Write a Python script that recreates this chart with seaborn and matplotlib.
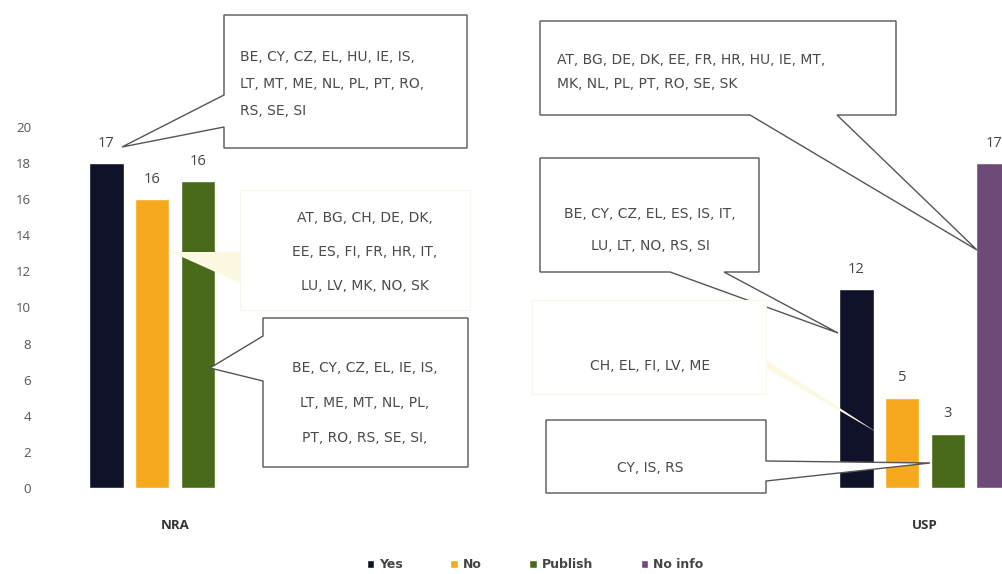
import matplotlib
matplotlib.use("Agg")
import matplotlib.pyplot as plt
from matplotlib.patches import Polygon
import pandas as pd
import seaborn as sns

# ── data ──────────────────────────────────────────────────────────────────────
group_order = ["NRA", "USP"]
answer_order = ["Yes", "No", "Publish", "No info"]
groups = ["NRA", "NRA", "NRA", "USP", "USP", "USP", "USP"]
answers = ["Yes", "No", "Publish", "Yes", "No", "Publish", "No info"]
heights = [18, 16, 17, 11, 5, 3, 18]          # bar heights as drawn
value_labels = ["17", "16", "16", "12", "5", "3", "17"]  # numbers printed on top

colors = {"Yes": "#0f1229", "No": "#f6a91c", "Publish": "#4a6a1b", "No info": "#6e4a79"}

# callout texts
txt_nra_yes = "BE, CY, CZ, EL, HU, IE, IS,\nLT, MT, ME, NL, PL, PT, RO,\nRS, SE, SI"
txt_nra_no = "AT, BG, CH, DE, DK,\nEE, ES, FI, FR, HR, IT,\nLU, LV, MK, NO, SK"
txt_nra_pub = "BE, CY, CZ, EL, IE, IS,\nLT, ME, MT, NL, PL,\nPT, RO, RS, SE, SI,"
txt_usp_info = "AT, BG, DE, DK, EE, FR, HR, HU, IE, MT,\nMK, NL, PL, PT, RO, SE, SK"
txt_usp_yes = "BE, CY, CZ, EL, ES, IS, IT,\nLU, LT, NO, RS, SI"
txt_usp_no = "CH, EL, FI, LV, ME"
txt_usp_pub = "CY, IS, RS"

df = pd.DataFrame({"group": groups, "answer": answers, "count": heights})
lab_map = {(g, a): l for g, a, l in zip(groups, answers, value_labels)}

# ── figure ────────────────────────────────────────────────────────────────────
sns.set_theme(style="white")
plt.rcParams["font.family"] = ["Open Sans", "DejaVu Sans"]

W, H = 1003, 574
fig = plt.figure(figsize=(W / 100, H / 100), dpi=100)
ax = fig.add_axes([45 / W, 86 / H, 958 / W, 361 / H])

sns.barplot(data=df, x="group", y="count", hue="answer",
            order=group_order, hue_order=answer_order, palette=colors,
            saturation=1, width=0.245, gap=0.24, errorbar=None, ax=ax)

ax.set_xlim((45 - 175) / 750, (1003 - 175) / 750)
ax.set_ylim(0, 20)
ax.set_yticks(range(0, 21, 2))
ax.set_xlabel("")
ax.set_ylabel("")
sns.despine(ax=ax, left=True, bottom=True)
ax.tick_params(axis="y", length=0, pad=10, labelsize=9.5, labelcolor="#555555")
ax.tick_params(axis="x", length=0, pad=22, labelsize=9.5, labelcolor="#333333")
for t in ax.get_xticklabels():
    t.set_fontweight("bold")

# numbers on top of bars
for cont, ans in zip(ax.containers, answer_order):
    labs = []
    for bar in cont:
        g = group_order[round(bar.get_x() + bar.get_width() / 2)]
        labs.append(lab_map.get((g, ans), ""))
    ax.bar_label(cont, labels=labs, padding=9, fontsize=10.5, color="#444444")

handles, labels = ax.get_legend_handles_labels()
ax.get_legend().remove()
fig.legend(handles, labels, loc="center", bbox_to_anchor=(535 / W, 1 - 565 / H),
           ncol=4, frameon=False, handlelength=0.6, handleheight=0.6,
           handletextpad=0.4, columnspacing=3.8,
           prop={"size": 9, "weight": "bold", "family": "DejaVu Sans"},
           labelcolor="#444444")


# ── callouts (pixel coordinates, origin top-left) ────────────────────────────
def fpt(x, y):
    return (x / W, 1 - y / H)


def callout(pts, fc="white", ec="#555555", lw=1.0):
    poly = Polygon([fpt(x, y) for x, y in pts], closed=True, transform=fig.transFigure,
                   facecolor=fc, edgecolor=ec, lw=lw, zorder=3)
    fig.add_artist(poly)


def note(x, y, s, ha="center", ls=1.0):
    fig.text(x / W, 1 - y / H, s, ha=ha, va="center", fontsize=10,
             family="DejaVu Sans", color="#4a4a4a", linespacing=ls, zorder=4)


PALE = "#fcf8e2"

callout([(224, 15), (467, 15), (467, 148), (224, 148), (224, 127), (122, 147), (224, 95)])
note(240, 84, txt_nra_yes, ha="left", ls=2.15)

callout([(240, 190), (470, 190), (470, 310), (240, 310)], ec="#f8f6ea", lw=0.8)
callout([(240, 252), (171, 252), (240, 283)], fc=PALE, ec="none")
note(365, 252, txt_nra_no, ls=2.85)

callout([(263, 318), (468, 318), (468, 467), (263, 467), (263, 381), (210, 368), (263, 336)])
note(365, 403, txt_nra_pub, ls=2.9)

callout([(540, 21), (896, 21), (896, 115), (837, 115), (977, 250), (750, 115), (540, 115)])
note(557, 72, txt_usp_info, ha="left", ls=1.95)

callout([(540, 158), (759, 158), (759, 272), (724, 272), (838, 333), (670, 272), (540, 272)])
note(650, 230, txt_usp_yes, ls=2.6)

callout([(532, 300), (766, 300), (766, 394), (532, 394)], ec="#f8f6ea", lw=0.8)
callout([(766, 360), (878, 433), (766, 368)], fc=PALE, ec="none")
note(650, 366, txt_usp_no)

callout([(546, 420), (766, 420), (766, 461), (930, 463), (766, 481), (766, 493), (546, 493)])
note(650, 468, txt_usp_pub)

fig.savefig("out.png", dpi=100)
